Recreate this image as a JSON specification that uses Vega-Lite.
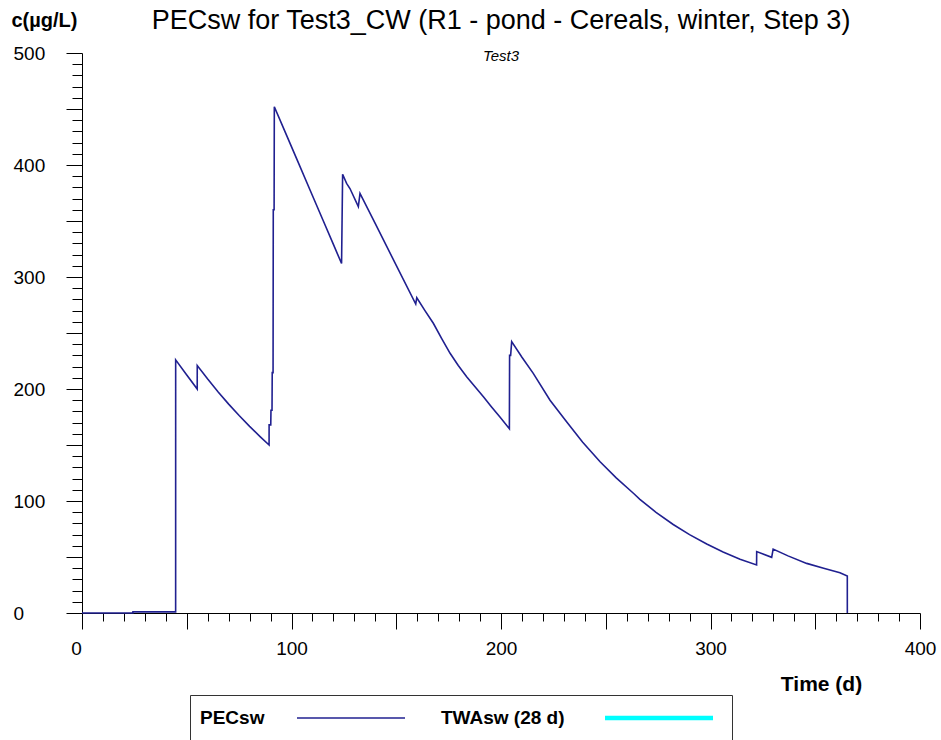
{
  "$schema": "https://vega.github.io/schema/vega-lite/v6.json",
  "width": 838,
  "height": 560,
  "autosize": {"type": "none"},
  "padding": {"left": 82, "top": 53, "right": 21, "bottom": 127},
  "background": "white",
  "title": {
    "text": "PECsw for Test3_CW (R1 - pond  - Cereals, winter, Step 3)",
    "subtitle": "Test3",
    "anchor": "middle",
    "orient": "top",
    "offset": -55,
    "font": "Liberation Sans",
    "fontSize": 27,
    "fontWeight": "normal",
    "color": "#000000",
    "subtitleFont": "Liberation Sans",
    "subtitleFontSize": 15,
    "subtitleFontStyle": "italic",
    "subtitleColor": "#000000",
    "subtitlePadding": 14
  },
  "data": {
    "values": [
      {"t": 0, "c": 0, "series": "PECsw"},
      {"t": 24.3, "c": 0, "series": "PECsw"},
      {"t": 24.31, "c": 1, "series": "PECsw"},
      {"t": 44.7, "c": 1, "series": "PECsw"},
      {"t": 44.71, "c": 226, "series": "PECsw"},
      {"t": 50, "c": 212.5, "series": "PECsw"},
      {"t": 55, "c": 200, "series": "PECsw"},
      {"t": 55.01, "c": 221, "series": "PECsw"},
      {"t": 60, "c": 208.9, "series": "PECsw"},
      {"t": 65, "c": 197.4, "series": "PECsw"},
      {"t": 70, "c": 186.5, "series": "PECsw"},
      {"t": 75, "c": 176.3, "series": "PECsw"},
      {"t": 80, "c": 166.6, "series": "PECsw"},
      {"t": 85, "c": 157.5, "series": "PECsw"},
      {"t": 89.3, "c": 150, "series": "PECsw"},
      {"t": 89.31, "c": 168, "series": "PECsw"},
      {"t": 90.1, "c": 168, "series": "PECsw"},
      {"t": 90.2, "c": 181, "series": "PECsw"},
      {"t": 90.7, "c": 181, "series": "PECsw"},
      {"t": 90.8, "c": 214.6, "series": "PECsw"},
      {"t": 91.2, "c": 214.6, "series": "PECsw"},
      {"t": 91.3, "c": 360, "series": "PECsw"},
      {"t": 91.7, "c": 360, "series": "PECsw"},
      {"t": 91.8, "c": 452, "series": "PECsw"},
      {"t": 97, "c": 429.3, "series": "PECsw"},
      {"t": 103, "c": 403.2, "series": "PECsw"},
      {"t": 109, "c": 377, "series": "PECsw"},
      {"t": 115, "c": 350.9, "series": "PECsw"},
      {"t": 120, "c": 329.1, "series": "PECsw"},
      {"t": 123.9, "c": 312, "series": "PECsw"},
      {"t": 124.4, "c": 391.7, "series": "PECsw"},
      {"t": 126.3, "c": 383.6, "series": "PECsw"},
      {"t": 127.9, "c": 379, "series": "PECsw"},
      {"t": 131.9, "c": 362.8, "series": "PECsw"},
      {"t": 132.7, "c": 374.7, "series": "PECsw"},
      {"t": 140, "c": 347.6, "series": "PECsw"},
      {"t": 150, "c": 310.4, "series": "PECsw"},
      {"t": 159.3, "c": 275.9, "series": "PECsw"},
      {"t": 159.8, "c": 281.5, "series": "PECsw"},
      {"t": 163.7, "c": 270, "series": "PECsw"},
      {"t": 167.7, "c": 258.7, "series": "PECsw"},
      {"t": 171.7, "c": 245, "series": "PECsw"},
      {"t": 175.7, "c": 231.9, "series": "PECsw"},
      {"t": 179.6, "c": 221, "series": "PECsw"},
      {"t": 183.6, "c": 211, "series": "PECsw"},
      {"t": 187.6, "c": 202, "series": "PECsw"},
      {"t": 191.6, "c": 193, "series": "PECsw"},
      {"t": 195.5, "c": 184, "series": "PECsw"},
      {"t": 199.5, "c": 175, "series": "PECsw"},
      {"t": 204, "c": 164.5, "series": "PECsw"},
      {"t": 204.1, "c": 230, "series": "PECsw"},
      {"t": 204.6, "c": 230, "series": "PECsw"},
      {"t": 205.1, "c": 242.3, "series": "PECsw"},
      {"t": 210, "c": 228.4, "series": "PECsw"},
      {"t": 215.4, "c": 214, "series": "PECsw"},
      {"t": 223.4, "c": 190, "series": "PECsw"},
      {"t": 231.4, "c": 170.5, "series": "PECsw"},
      {"t": 239, "c": 152.5, "series": "PECsw"},
      {"t": 247.3, "c": 135, "series": "PECsw"},
      {"t": 255, "c": 120.6, "series": "PECsw"},
      {"t": 263.2, "c": 106.9, "series": "PECsw"},
      {"t": 266.3, "c": 101.5, "series": "PECsw"},
      {"t": 274, "c": 89.9, "series": "PECsw"},
      {"t": 282.2, "c": 79, "series": "PECsw"},
      {"t": 290, "c": 70, "series": "PECsw"},
      {"t": 298.2, "c": 61.6, "series": "PECsw"},
      {"t": 306, "c": 54.4, "series": "PECsw"},
      {"t": 314.1, "c": 47.9, "series": "PECsw"},
      {"t": 322, "c": 42.9, "series": "PECsw"},
      {"t": 322.05, "c": 54.8, "series": "PECsw"},
      {"t": 329.2, "c": 49.7, "series": "PECsw"},
      {"t": 329.9, "c": 57.1, "series": "PECsw"},
      {"t": 337, "c": 51, "series": "PECsw"},
      {"t": 345.9, "c": 44.3, "series": "PECsw"},
      {"t": 354, "c": 39.9, "series": "PECsw"},
      {"t": 361.8, "c": 36, "series": "PECsw"},
      {"t": 365.3, "c": 33, "series": "PECsw"},
      {"t": 365.31, "c": 0, "series": "PECsw"}
    ]
  },
  "mark": {"type": "line", "interpolate": "linear", "strokeJoin": "miter"},
  "encoding": {
    "x": {
      "field": "t",
      "type": "quantitative",
      "scale": {"domain": [0, 400], "nice": false, "zero": false},
      "axis": {
        "values": [0, 10, 20, 30, 40, 50, 60, 70, 80, 90, 100, 110, 120, 130, 140, 150, 160, 170, 180, 190, 200, 210, 220, 230, 240, 250, 260, 270, 280, 290, 300, 310, 320, 330, 340, 350, 360, 370, 380, 390, 400],
        "labelExpr": "datum.value % 100 === 0 ? datum.label : ''",
        "tickSize": {"condition": {"test": "datum.value % 50 === 0", "value": 16}, "value": 8},
        "labelOffset": {"condition": {"test": "datum.value === 0", "value": -6}, "value": 0},
        "labelPadding": 10,
        "labelFlush": false,
        "labelOverlap": false,
        "title": "Time (d)",
        "titleX": 739,
        "titleY": 71,
        "titleAlign": "center",
        "titleBaseline": "middle",
        "titleFontSize": 21,
        "titleFontWeight": "bold"
      }
    },
    "y": {
      "field": "c",
      "type": "quantitative",
      "scale": {"domain": [0, 500], "nice": false},
      "axis": {
        "values": [0, 10, 20, 30, 40, 50, 60, 70, 80, 90, 100, 110, 120, 130, 140, 150, 160, 170, 180, 190, 200, 210, 220, 230, 240, 250, 260, 270, 280, 290, 300, 310, 320, 330, 340, 350, 360, 370, 380, 390, 400, 410, 420, 430, 440, 450, 460, 470, 480, 490, 500],
        "labelExpr": "datum.value % 100 === 0 ? datum.label : ''",
        "tickSize": {"condition": {"test": "datum.value % 50 === 0", "value": 16}, "value": 10},
        "labelAlign": "left",
        "labelPadding": 53,
        "labelOverlap": false,
        "title": "c(µg/L)",
        "titleAngle": 0,
        "titleX": -71,
        "titleY": -33,
        "titleAlign": "left",
        "titleBaseline": "middle",
        "titleFontSize": 20,
        "titleFontWeight": "bold"
      }
    },
    "color": {
      "field": "series",
      "type": "nominal",
      "scale": {"domain": ["PECsw", "TWAsw  (28 d)"], "range": ["#202090", "#00ffff"]},
      "legend": {
        "title": "\u00a0",
        "encode": {
          "labels": {
            "update": {
              "x": {"value": 0},
              "y": {"value": 13},
              "align": {"value": "left"},
              "baseline": {"value": "middle"}
            }
          },
          "symbols": {
            "update": {
              "x": {"signal": "datum.index === 0 ? 151 : 218"},
              "y": {"value": 13}
            }
          }
        }
      }
    },
    "strokeWidth": {
      "field": "series",
      "type": "nominal",
      "scale": {"domain": ["PECsw", "TWAsw  (28 d)"], "range": [1.6, 4.5]},
      "legend": {
        "title": "\u00a0",
        "encode": {
          "labels": {
            "update": {
              "x": {"value": 0},
              "y": {"value": 13},
              "align": {"value": "left"},
              "baseline": {"value": "middle"}
            }
          },
          "symbols": {
            "update": {
              "x": {"signal": "datum.index === 0 ? 151 : 218"},
              "y": {"value": 13}
            }
          }
        }
      }
    }
  },
  "config": {
    "view": {"stroke": null},
    "font": "Liberation Sans",
    "axis": {
      "grid": false,
      "domainColor": "#000000",
      "domainWidth": 1,
      "tickColor": "#000000",
      "tickWidth": 1,
      "labelColor": "#000000",
      "labelFont": "Liberation Sans",
      "labelFontSize": 19,
      "titleColor": "#000000",
      "titleFont": "Liberation Sans"
    },
    "legend": {
      "orient": "none",
      "legendX": 108,
      "legendY": 642,
      "direction": "horizontal",
      "titleOrient": "bottom",
      "titleFontSize": 14,
      "titlePadding": 6,
      "symbolType": "stroke",
      "symbolSize": 11664,
      "columnPadding": 32,
      "padding": 10,
      "strokeColor": "#333333",
      "labelFont": "Liberation Sans",
      "labelFontSize": 19,
      "labelFontWeight": "bold",
      "labelColor": "#000000",
      "labelLimit": 400
    }
  }
}
